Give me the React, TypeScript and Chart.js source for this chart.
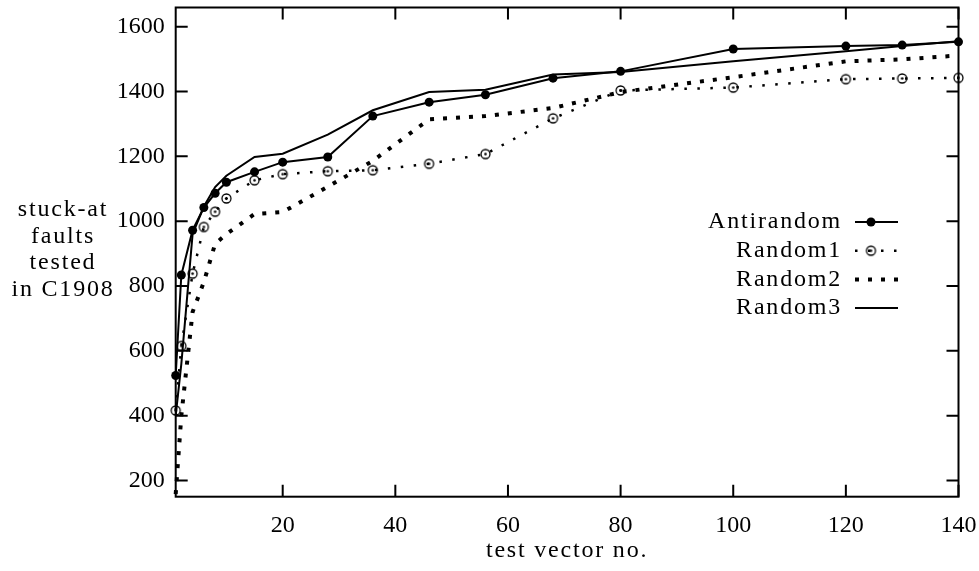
import React, { useEffect, useRef } from "react";
import { Chart, registerables } from "chart.js";
Chart.register(...registerables);

const xValues = [1, 2, 4, 6, 8, 10, 15, 20, 28, 36, 46, 56, 68, 80, 100, 120, 130, 140];
const antirandom = [524, 834, 972, 1042, 1086, 1120, 1152, 1182, 1198, 1324, 1367, 1390, 1441, 1462, 1531, 1540, 1543, 1553];
const random1 = [416, 615, 838, 982, 1029, 1070, 1126, 1145, 1154, 1157, 1177, 1207, 1317, 1403, 1412, 1438, 1440, 1442];
const random2 = [158, 400, 720, 812, 930, 960, 1022, 1028, 1106, 1186, 1314, 1324, 1349, 1398, 1444, 1493, 1499, 1511];
const random3 = [400, 560, 960, 1045, 1105, 1140, 1198, 1208, 1267, 1342, 1398, 1405, 1452, 1460, 1493, 1524, 1540, 1555];

const seriesNames = ["Antirandom", "Random1", "Random2", "Random3"];
const xTicks = [20, 40, 60, 80, 100, 120, 140];
const yTicks = [200, 400, 600, 800, 1000, 1200, 1400, 1600];
const yTitleLines = ["stuck-at", "faults", "tested", "in C1908"];
const xTitle = "test vector no.";

const FONT = "'Liberation Serif', 'Times New Roman', serif";
const FONT_SIZE = 24;

function makeRing(): HTMLCanvasElement {
  const c = document.createElement("canvas");
  c.width = 13;
  c.height = 13;
  const g = c.getContext("2d")!;
  g.strokeStyle = "#000";
  g.lineWidth = 1.3;
  g.beginPath();
  g.arc(6.5, 6.5, 4.5, 0, Math.PI * 2);
  g.stroke();
  g.fillStyle = "#000";
  g.beginPath();
  g.arc(6.5, 6.5, 1.3, 0, Math.PI * 2);
  g.fill();
  return c;
}

const zip = (ys: number[]) => xValues.map((x, i) => ({ x, y: ys[i] }));

const framePlugin = {
  id: "frame",
  afterDraw(chart: any) {
    const { ctx, chartArea, scales } = chart;
    const { left, right, top, bottom } = chartArea;
    ctx.save();
    ctx.strokeStyle = "#000";
    ctx.lineWidth = 2;
    ctx.setLineDash([]);
    ctx.strokeRect(left, top, right - left, bottom - top);
    const tl = 12;
    ctx.beginPath();
    yTicks.forEach((v) => {
      const p = scales.y.getPixelForValue(v);
      ctx.moveTo(left, p);
      ctx.lineTo(left + tl, p);
      ctx.moveTo(right, p);
      ctx.lineTo(right - tl, p);
    });
    xTicks.forEach((v) => {
      const p = scales.x.getPixelForValue(v);
      ctx.moveTo(p, bottom);
      ctx.lineTo(p, bottom - tl);
      ctx.moveTo(p, top);
      ctx.lineTo(p, top + tl);
    });
    ctx.stroke();

    ctx.fillStyle = "#000";
    ctx.font = `${FONT_SIZE}px ${FONT}`;
    (ctx as any).letterSpacing = "1.8px";
    ctx.textAlign = "center";
    ctx.textBaseline = "alphabetic";
    yTitleLines.forEach((t, i) => {
      ctx.fillText(t, 63, 216 + i * 26.7);
    });
    ctx.textBaseline = "middle";
    ctx.fillText(xTitle, (left + right) / 2, 551);

    const rowY0 = 222;
    const rowStep = 28.7;
    chart.data.datasets.forEach((ds: any, i: number) => {
      const y = rowY0 + i * rowStep;
      ctx.textAlign = "right";
      ctx.textBaseline = "middle";
      ctx.fillStyle = "#000";
      ctx.fillText(ds.label, 842, y);
      ctx.save();
      ctx.strokeStyle = "#000";
      ctx.lineWidth = ds.borderWidth;
      ctx.lineCap = "butt";
      ctx.setLineDash(ds.borderDash || []);
      ctx.beginPath();
      ctx.moveTo(855, y);
      ctx.lineTo(898, y);
      ctx.stroke();
      ctx.restore();
      const cx = 871;
      if (ds.pointStyle && typeof ds.pointStyle === "object") {
        const img = ds.pointStyle as HTMLCanvasElement;
        ctx.drawImage(img, cx - img.width / 2, y - img.height / 2);
      } else if (ds.pointRadius > 0) {
        ctx.beginPath();
        ctx.arc(cx, y, ds.pointRadius, 0, Math.PI * 2);
        ctx.fill();
      }
    });
    ctx.restore();
  },
};

export default function App() {
  const ref = useRef<HTMLCanvasElement>(null);
  useEffect(() => {
    const ring = makeRing();
    const chart = new Chart(ref.current!, {
      type: "line",
      data: {
        datasets: [
          {
            label: seriesNames[0],
            data: zip(antirandom),
            borderColor: "#000",
            backgroundColor: "#000",
            borderWidth: 2,
            pointRadius: 4.5,
            pointBorderWidth: 0,
            pointBackgroundColor: "#000",
            clip: false,
          },
          {
            label: seriesNames[1],
            data: zip(random1),
            borderColor: "#000",
            borderWidth: 2.5,
            borderDash: [2.5, 10.5],
            pointStyle: ring,
            pointRadius: 5,
            clip: false,
          },
          {
            label: seriesNames[2],
            data: zip(random2),
            borderColor: "#000",
            borderWidth: 4,
            borderDash: [4, 9],
            pointRadius: 0,
            clip: false,
          },
          {
            label: seriesNames[3],
            data: zip(random3),
            borderColor: "#000",
            borderWidth: 2,
            pointRadius: 0,
            clip: false,
          },
        ] as any,
      },
      options: {
        animation: false,
        responsive: false,
        maintainAspectRatio: false,
        layout: { padding: { top: 7, right: 20.5, left: 0, bottom: 0 } },
        plugins: { legend: { display: false }, tooltip: { enabled: false } },
        scales: {
          x: {
            type: "linear",
            min: 1,
            max: 140,
            grid: { display: false, drawTicks: false },
            border: { display: false },
            afterBuildTicks: (s: any) => {
              s.ticks = xTicks.map((v) => ({ value: v }));
            },
            afterFit: (s: any) => {
              s.height = 74.3;
              s.paddingLeft = 0;
              s.paddingRight = 0;
            },
            ticks: {
              color: "#000",
              font: { family: FONT, size: FONT_SIZE },
              padding: 15,
              autoSkip: false,
              maxRotation: 0,
              callback: (v: any) => String(v),
            },
          },
          y: {
            type: "linear",
            min: 150,
            max: 1659,
            grid: { display: false, drawTicks: false },
            border: { display: false },
            afterBuildTicks: (s: any) => {
              s.ticks = yTicks.map((v) => ({ value: v }));
            },
            afterFit: (s: any) => {
              s.width = 175.7;
              s.paddingTop = 0;
              s.paddingBottom = 0;
            },
            ticks: {
              color: "#000",
              font: { family: FONT, size: FONT_SIZE },
              padding: 11,
              autoSkip: false,
              callback: (v: any) => String(v),
            },
          },
        },
      } as any,
      plugins: [framePlugin],
    });
    return () => chart.destroy();
  }, []);
  return (
    <div style={{ position: "fixed", left: 0, top: 0, width: 979, height: 571, background: "#fff" }}>
      <canvas ref={ref} width={979} height={571} style={{ width: 979, height: 571, display: "block" }} />
    </div>
  );
}
